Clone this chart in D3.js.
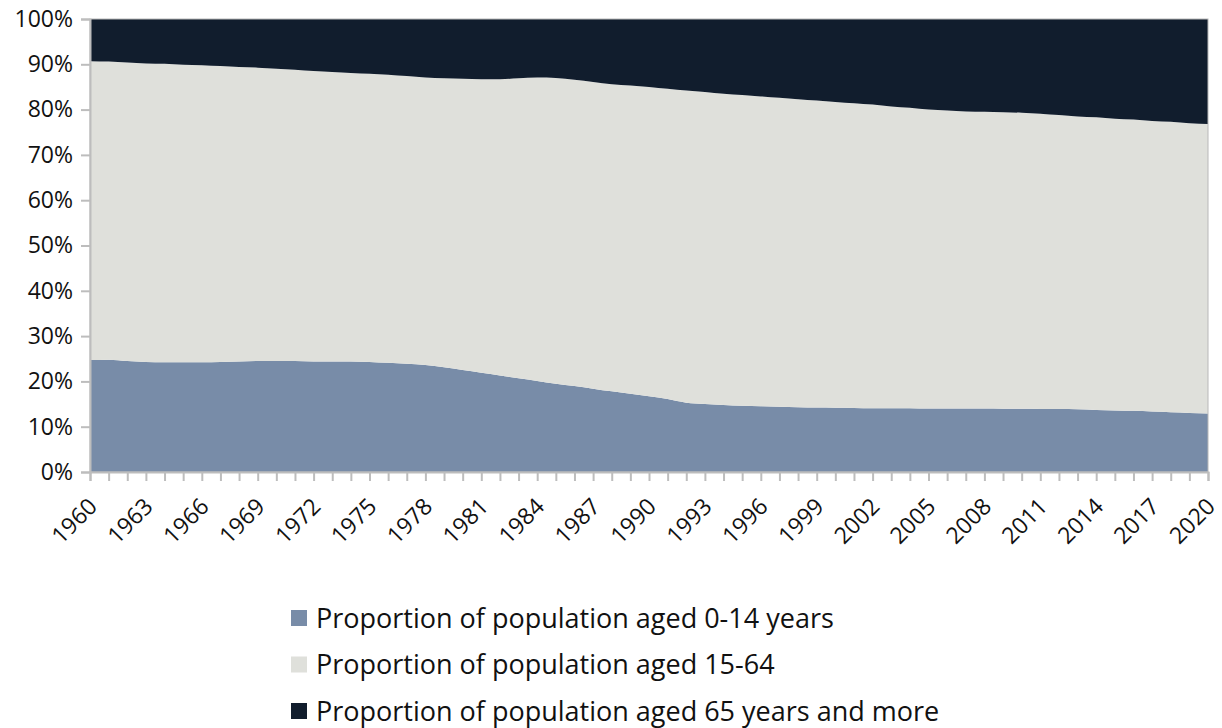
<!DOCTYPE html>
<html>
<head>
<meta charset="utf-8">
<script src="https://cdn.jsdelivr.net/npm/d3@7/dist/d3.min.js"></script>
<style>
  html, body { margin: 0; padding: 0; background: #fff; }
  svg { display: block; }
  svg text { font-family: "Open Sans", "Noto Sans", sans-serif; fill: #111; }
  .axis text { font-size: 23px; }
  .legend text { font-size: 27px; }
</style>
</head>
<body>
<div id="chart"></div>
<script>
// years on the x axis, one point per year
const years = d3.range(1960, 2021);
// tick labels shown (every third year)
const yearLabels = years.filter(y => (y - 1960) % 3 === 0);
const yTicks = [0, 0.1, 0.2, 0.3, 0.4, 0.5, 0.6, 0.7, 0.8, 0.9, 1];

// share of population aged 0-14 (%)
const young = [
  24.7, 24.8, 24.5, 24.3, 24.2, 24.2, 24.2, 24.3, 24.4, 24.5,
  24.5, 24.5, 24.4, 24.4, 24.4, 24.3, 24.1, 23.9, 23.6, 23.1,
  22.5, 21.9, 21.3, 20.7, 20.1, 19.5, 19.0, 18.4, 17.8, 17.3,
  16.7, 16.1, 15.3, 15.0, 14.8, 14.6, 14.5, 14.4, 14.3, 14.25,
  14.2, 14.15, 14.1, 14.1, 14.05, 14.0, 14.0, 14.0, 14.0, 13.95,
  13.95, 13.9, 13.9, 13.85, 13.7, 13.6, 13.5, 13.35, 13.2, 13.05,
  12.9
];
// share of population aged 65 and more (%)
const old = [
  9.3, 9.4, 9.6, 9.8, 9.9, 10.1, 10.2, 10.4, 10.6, 10.75,
  11.0, 11.2, 11.5, 11.7, 11.9, 12.1, 12.3, 12.6, 12.9, 13.1,
  13.2, 13.3, 13.3, 13.1, 12.9, 13.0, 13.4, 13.9, 14.4, 14.7,
  15.0, 15.4, 15.8, 16.1, 16.5, 16.8, 17.1, 17.4, 17.7, 18.0,
  18.3, 18.6, 18.9, 19.3, 19.6, 20.0, 20.2, 20.4, 20.5, 20.6,
  20.7, 20.9, 21.2, 21.5, 21.7, 22.0, 22.2, 22.5, 22.7, 23.0,
  23.2
];
// working age is what is left
const working = young.map((v, i) => +(100 - v - old[i]).toFixed(2));

const seriesNames = [
  'Proportion of population aged 0-14 years',
  'Proportion of population aged 15-64',
  'Proportion of population aged 65 years and more'
];
const seriesColors = ['#788ca8', '#dfe0db', '#111d2d'];

const width = 1222, height = 728;
const margin = { top: 19, right: 14, bottom: 256, left: 90 };
const innerW = width - margin.left - margin.right;
const innerH = height - margin.top - margin.bottom;

const table = years.map((year, i) => ({ year, a: young[i], b: working[i], c: old[i] }));
const keys = ['a', 'b', 'c'];

const svg = d3.select('#chart').append('svg')
  .attr('width', width)
  .attr('height', height);

const g = svg.append('g')
  .attr('transform', `translate(${margin.left},${margin.top})`);

const x = d3.scaleLinear()
  .domain(d3.extent(years))
  .range([0, innerW]);

const y = d3.scaleLinear()
  .domain([0, 1])
  .range([innerH, 0]);

const stacked = d3.stack()
  .keys(keys)
  .offset(d3.stackOffsetExpand)(table);

const area = d3.area()
  .x(d => x(d.data.year))
  .y0(d => y(d[0]))
  .y1(d => y(d[1]))
  .curve(d3.curveMonotoneX);

g.selectAll('path.layer')
  .data(stacked)
  .join('path')
  .attr('class', 'layer')
  .attr('fill', (d, i) => seriesColors[i])
  .attr('d', area);

// frame around the plot
g.append('rect')
  .attr('x', 0).attr('y', 0)
  .attr('width', innerW).attr('height', innerH)
  .attr('fill', 'none')
  .attr('stroke', '#b8b8b8')
  .attr('stroke-width', 1);

const yAxis = g.append('g')
  .attr('class', 'axis')
  .call(d3.axisLeft(y).tickValues(yTicks).tickFormat(d3.format('.0%')).tickSize(9).tickPadding(8));
yAxis.attr('font-family', null);
yAxis.select('.domain').attr('stroke', '#bdbdbd').attr('stroke-width', 2);
yAxis.selectAll('.tick line').attr('stroke', '#bdbdbd').attr('stroke-width', 2);

const xAxis = g.append('g')
  .attr('class', 'axis')
  .attr('transform', `translate(0,${innerH})`)
  .call(d3.axisBottom(x).tickValues(years).tickFormat(d => yearLabels.includes(d) ? d : '').tickSize(9));
xAxis.attr('font-family', null);
xAxis.select('.domain').attr('stroke', '#bdbdbd').attr('stroke-width', 2);
xAxis.selectAll('.tick line').attr('stroke', '#bdbdbd').attr('stroke-width', 2);
xAxis.selectAll('.tick text')
  .attr('text-anchor', 'end')
  .attr('x', 0)
  .attr('y', 0)
  .attr('dy', null)
  .attr('transform', 'translate(8,36) rotate(-45)');

const legend = svg.append('g')
  .attr('class', 'legend')
  .attr('transform', 'translate(291,618)');

const rows = legend.selectAll('g')
  .data(seriesNames)
  .join('g')
  .attr('transform', (d, i) => `translate(0,${i * 46.5})`);

rows.append('rect')
  .attr('x', 0).attr('y', -8)
  .attr('width', 16).attr('height', 16)
  .attr('fill', (d, i) => seriesColors[i]);

rows.append('text')
  .attr('x', 25)
  .attr('y', 0)
  .attr('dy', '0.36em')
  .text(d => d);
</script>
</body>
</html>
